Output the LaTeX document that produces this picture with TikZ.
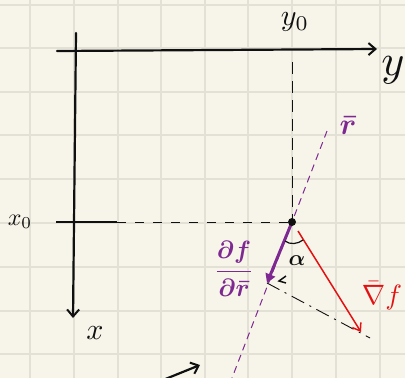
\documentclass[tikz,border=0pt]{standalone}
\usepackage{graphicx}
\usepackage{amsmath,amssymb}
\usetikzlibrary{arrows.meta}
\definecolor{paper}{HTML}{F7F5EA}
\definecolor{gridc}{HTML}{E3E1D5}
\definecolor{pen}{HTML}{101010}
\definecolor{vio}{HTML}{7D2991}
\definecolor{redpen}{HTML}{E31212}
\tikzset{
  gridline/.style={gridc,line width=1.6pt},
  axis/.style={pen,line width=2.2pt,line cap=round},
  barb/.style={-{Straight Barb[length=7pt,width=12pt,line width=2pt]}},
  guide/.style={pen,line width=0.9pt,dash pattern=on 9pt off 9pt},
  rline/.style={vio,line width=1pt,dash pattern=on 7pt off 5pt},
  lbl/.style={inner sep=0pt,text=pen},
}
\begin{document}
\begin{tikzpicture}[x=1pt,y=-1pt]
\useasboundingbox (0,0) rectangle (405,378);
\clip (0,0) rectangle (405,378);
\fill[paper] (0,0) rectangle (405,378);
\foreach \x in {30,74,118,161,205,248,292,336,380} \draw[gridline] (\x,0) -- (\x,378);
\foreach \y in {5,48,92,135,179,223,267,311,354} \draw[gridline] (0,\y) -- (405,\y);

% coordinates
\coordinate (yl) at (57,51);
\coordinate (yr) at (377,49);
\coordinate (xt) at (76,33);
\coordinate (xb) at (73,318);
\coordinate (tl) at (56,222);
\coordinate (tr) at (117,222);
\coordinate (vt) at (292,62);
\coordinate (P) at (292,222);
\coordinate (rt) at (327,131);
\coordinate (rb) at (232,378);
\coordinate (D) at (267,283);
\coordinate (G0) at (298,231);
\coordinate (G) at (361,332);
\coordinate (E) at (370,338);
\coordinate (ba) at (163,380);
\coordinate (bb) at (200,365);

% axes
\draw[axis,barb] (yl) -- (yr);
\draw[axis,barb] (xt) -- (xb);
\draw[pen,line width=1.3pt] (tl) -- (tr);
\draw[guide] (tr) -- (P);
\draw[guide,dash pattern=on 12pt off 7pt] (vt) -- (P);

% direction r
\draw[rline] (rt) -- (rb);
% projection line
\draw[pen,line width=0.9pt,dash pattern=on 14pt off 6pt on 2pt off 6pt] (D) -- (E);
% gradient
\draw[redpen,line width=1.5pt,-{Straight Barb[length=7pt,width=10pt,line width=1.5pt]}] (G0) -- (G);
% derivative
\draw[vio,line width=3pt,-{Triangle[length=9pt,width=10pt]}] (P) -- (D);
% point
\fill[pen] (P) circle (4pt);
% angle
\draw[pen,line width=1.2pt] (285,241) .. controls (290,245) and (298,244) .. (303,240);
\draw[pen,line width=1.5pt] (286,276) -- (279,281) -- (286,283);
% bottom arrow
\draw[axis,barb] (ba) -- (bb);

% labels
\node[lbl] (ly0) at (295,22) {\scalebox{3}{$y_0$}};
\node[lbl] (ly) at (393,70) {\scalebox{4.4}{$y$}};
\node[lbl] (lx) at (95,333) {\scalebox{3}{$x$}};
\node[lbl] (lx0) at (20,222) {\scalebox{2.4}{$x_0$}};
\node[lbl,text=vio] (lr) at (348,126) {\scalebox{3}{$\boldsymbol{\bar r}$}};
\node[lbl,text=vio] (ld) at (234,269) {\scalebox{2.5}{$\boldsymbol{\dfrac{\partial f}{\partial \bar r}}$}};
\node[lbl,text=redpen] (lg) at (382,296) {\scalebox{2.8}{$\bar\nabla f$}};
\node[lbl] (la) at (297,261) {\scalebox{2.2}{$\boldsymbol{\alpha}$}};
\end{tikzpicture}
\end{document}
